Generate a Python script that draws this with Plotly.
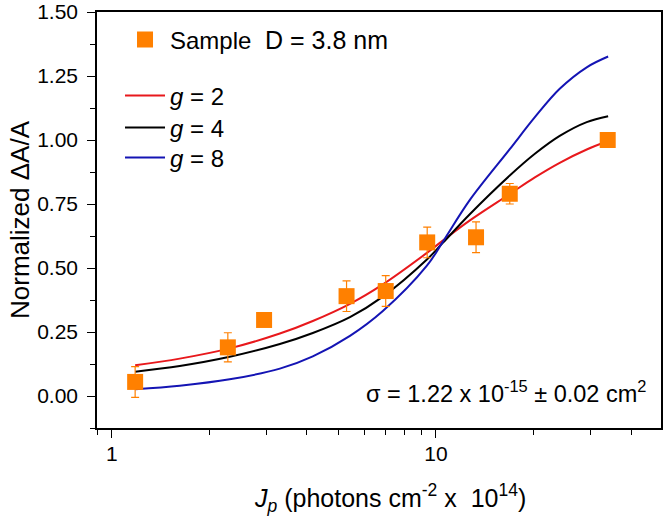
import plotly.graph_objects as go

# Measured data
sample_x = [1.18, 2.28, 2.95, 5.3, 7.0, 9.4, 13.3, 16.9, 33.9]
sample_y = [0.055, 0.19, 0.297, 0.39, 0.41, 0.60, 0.62, 0.79, 1.0]
sample_err = [0.06, 0.057, 0.015, 0.06, 0.06, 0.06, 0.06, 0.04, 0.015]

# Model curves
curve_x = [1.18, 1.62, 2.31, 3.3, 4.17, 5.43, 6.86, 9.38, 10.5, 12.7, 16.9, 20.2, 24.1, 29.2, 34.0]
g2_y = [0.12, 0.146, 0.186, 0.244, 0.293, 0.36, 0.436, 0.559, 0.607, 0.685, 0.789, 0.854, 0.911, 0.963, 0.996]
g4_y = [0.095, 0.117, 0.153, 0.203, 0.246, 0.308, 0.388, 0.533, 0.598, 0.709, 0.861, 0.946, 1.016, 1.07, 1.093]
g8_y = [0.026, 0.040, 0.065, 0.107, 0.155, 0.235, 0.332, 0.509, 0.602, 0.764, 0.964, 1.089, 1.20, 1.284, 1.326]

x_major = [1, 10]
x_minor = [0.9, 2, 3, 4, 5, 6, 7, 8, 9, 20, 30, 40]

ORANGE = "#FF8000"
FONT = "Liberation Sans, Arial, sans-serif"

fig = go.Figure()

fig.add_trace(go.Scatter(
    x=curve_x, y=g2_y, mode="lines", line=dict(color="#E8181C", width=2, shape="spline", smoothing=1),
    name="<i>g</i> = 2", legend="legend2"))
fig.add_trace(go.Scatter(
    x=curve_x, y=g4_y, mode="lines", line=dict(color="#000000", width=2, shape="spline", smoothing=1),
    name="<i>g</i> = 4", legend="legend3"))
fig.add_trace(go.Scatter(
    x=curve_x, y=g8_y, mode="lines", line=dict(color="#1414B4", width=2, shape="spline", smoothing=1),
    name="<i>g</i> = 8", legend="legend4"))
fig.add_trace(go.Scatter(
    x=sample_x, y=sample_y, mode="markers",
    marker=dict(symbol="square", size=16, color=ORANGE),
    error_y=dict(type="data", array=sample_err, color=ORANGE, thickness=1.2, width=4),
    name="Sample", legend="legend", showlegend=True))

def px_to_paper_y(py):
    return 1 - (py - 12) / 416

def px_to_paper_x(px):
    return (px - 97) / 564

leg_common = dict(font=dict(family=FONT, size=24, color="black"), bgcolor="rgba(0,0,0,0)",
                  xanchor="left", yanchor="middle", itemwidth=40, x=0.0408)
fig.update_layout(
    width=666, height=525,
    margin=dict(l=97, r=5, t=12, b=97),
    paper_bgcolor="white", plot_bgcolor="white",
    showlegend=True,
    font=dict(family=FONT, size=21, color="black"),
    legend=dict(y=px_to_paper_y(40), **leg_common),
    legend2=dict(y=px_to_paper_y(96), **leg_common),
    legend3=dict(y=px_to_paper_y(128), **leg_common),
    legend4=dict(y=px_to_paper_y(158), **leg_common),
    xaxis=dict(
        type="log", range=[-0.0458, 1.6946], automargin=False,
        tickvals=x_major, ticktext=["1", "10"],
        ticks="outside", ticklen=8, tickwidth=1.3, tickcolor="black",
        minor=dict(tickvals=x_minor, ticks="outside", ticklen=5, tickwidth=1.3, tickcolor="black"),
        showline=True, linecolor="black", linewidth=1.5, mirror=True,
        showgrid=False, zeroline=False,
        tickfont=dict(size=21),
        ticklabelstandoff=-2,
    ),
    yaxis=dict(
        range=[-0.125, 1.5], tickvals=[0, 0.25, 0.5, 0.75, 1.0, 1.25, 1.5], tickformat=".2f",
        automargin=False,
        ticks="outside", ticklen=8, tickwidth=1.3, tickcolor="black",
        minor=dict(dtick=0.125, ticks="outside", ticklen=5, tickwidth=1.3, tickcolor="black"),
        showline=True, linecolor="black", linewidth=1.5, mirror=True,
        showgrid=False, zeroline=False,
        tickfont=dict(size=21),
        ticklabelstandoff=5,
        title=dict(text="Normalized ΔA/A", font=dict(size=26), standoff=0),
    ),
    annotations=[
        dict(text="D = 3.8 nm", x=px_to_paper_x(263), y=px_to_paper_y(40), xref="paper", yref="paper",
             xanchor="left", yanchor="middle", showarrow=False, font=dict(size=25)),
        dict(text="σ = 1.22 x 10<sup>-15</sup> ± 0.02 cm<sup>2</sup>", xref="paper", yref="paper",
             x=px_to_paper_x(648), y=px_to_paper_y(392), xanchor="right", yanchor="middle", showarrow=False,
             font=dict(size=23.5)),
        dict(text="<i>J</i><sub><i>p</i></sub> (photons cm<sup>-2</sup> x  10<sup>14</sup>)",
             x=px_to_paper_x(390), y=px_to_paper_y(498), xref="paper", yref="paper",
             xanchor="center", yanchor="middle", showarrow=False, font=dict(size=25)),
    ],
)

fig.write_html("out.html", config={"displayModeBar": False},
               post_script="document.body.style.margin='0';document.body.style.overflow='hidden';")
